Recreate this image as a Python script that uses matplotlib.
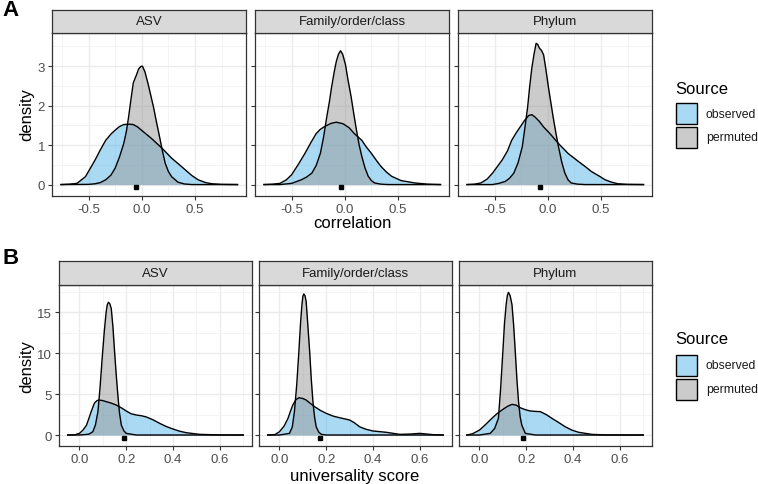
import matplotlib
matplotlib.use("Agg")
import matplotlib.pyplot as plt
from matplotlib.patches import Rectangle

plt.rcParams['font.family'] = ['Liberation Sans', 'DejaVu Sans']
plt.rcParams['axes.unicode_minus'] = False

facets = ["ASV", "Family/order/class", "Phylum"]

# --- panel A: correlation densities ---
corr_asv_obs_x = [-0.76, -0.68, -0.61, -0.53, -0.44, -0.39, -0.34, -0.29, -0.25, -0.21, -0.17, -0.12, -0.08, -0.04, 0.0, 0.09, 0.19, 0.28, 0.35, 0.41, 0.47, 0.53, 0.6, 0.66, 0.75, 0.90]
corr_asv_obs_y = [0.0, 0.01, 0.03, 0.2, 0.62, 0.88, 1.12, 1.28, 1.38, 1.47, 1.52, 1.53, 1.52, 1.46, 1.37, 1.17, 0.92, 0.67, 0.51, 0.37, 0.23, 0.12, 0.05, 0.02, 0.005, 0.0]
corr_asv_perm_x = [-0.76, -0.5, -0.44, -0.39, -0.34, -0.29, -0.25, -0.21, -0.17, -0.145, -0.125, -0.1, -0.08, -0.05, -0.03, -0.01, 0.006, 0.03, 0.06, 0.085, 0.11, 0.135, 0.16, 0.19, 0.22, 0.25, 0.28, 0.34, 0.4, 0.47, 0.90]
corr_asv_perm_y = [0.0, 0.005, 0.02, 0.05, 0.12, 0.24, 0.42, 0.7, 1.04, 1.35, 1.7, 2.2, 2.58, 2.78, 2.93, 2.99, 3.0, 2.85, 2.54, 2.25, 1.96, 1.62, 1.3, 0.9, 0.54, 0.33, 0.2, 0.06, 0.015, 0.0, 0.0]

corr_fam_obs_x = [-0.76, -0.68, -0.61, -0.55, -0.5, -0.44, -0.375, -0.32, -0.27, -0.23, -0.19, -0.13, -0.08, -0.016, 0.04, 0.09, 0.16, 0.2, 0.25, 0.3, 0.34, 0.39, 0.44, 0.53, 0.66, 0.78, 0.90]
corr_fam_obs_y = [0.0, 0.01, 0.03, 0.12, 0.25, 0.5, 0.79, 1.06, 1.29, 1.4, 1.47, 1.55, 1.58, 1.54, 1.44, 1.29, 1.12, 0.96, 0.79, 0.6, 0.46, 0.32, 0.21, 0.1, 0.04, 0.01, 0.0]
corr_fam_perm_x = [-0.76, -0.61, -0.5, -0.41, -0.36, -0.31, -0.27, -0.23, -0.2, -0.17, -0.145, -0.125, -0.1, -0.08, -0.06, -0.04, -0.02, 0.006, 0.03, 0.06, 0.085, 0.11, 0.135, 0.16, 0.19, 0.22, 0.25, 0.28, 0.34, 0.41, 0.90]
corr_fam_perm_y = [0.0, 0.0, 0.03, 0.12, 0.19, 0.29, 0.48, 0.79, 1.2, 1.71, 2.1, 2.46, 2.85, 3.12, 3.3, 3.39, 3.3, 3.04, 2.65, 2.21, 1.78, 1.37, 1.0, 0.71, 0.42, 0.21, 0.1, 0.04, 0.01, 0.0, 0.0]

corr_phy_obs_x = [-0.76, -0.69, -0.63, -0.57, -0.52, -0.43, -0.38, -0.34, -0.3, -0.26, -0.22, -0.18, -0.15, -0.12, -0.08, -0.04, 0.02, 0.1, 0.19, 0.29, 0.35, 0.41, 0.48, 0.54, 0.6, 0.66, 0.75, 0.90]
corr_phy_obs_y = [0.0, 0.01, 0.04, 0.14, 0.29, 0.62, 0.85, 1.12, 1.3, 1.46, 1.62, 1.75, 1.77, 1.71, 1.6, 1.46, 1.29, 1.04, 0.79, 0.58, 0.46, 0.33, 0.22, 0.12, 0.06, 0.02, 0.005, 0.0]
corr_phy_perm_x = [-0.76, -0.52, -0.46, -0.4, -0.36, -0.32, -0.28, -0.24, -0.215, -0.19, -0.17, -0.15, -0.13, -0.11, -0.095, -0.08, -0.06, -0.04, -0.02, 0.006, 0.03, 0.05, 0.075, 0.1, 0.13, 0.16, 0.19, 0.22, 0.28, 0.35, 0.90]
corr_phy_perm_y = [0.0, 0.0, 0.03, 0.08, 0.16, 0.29, 0.55, 0.96, 1.45, 1.96, 2.5, 2.96, 3.3, 3.58, 3.55, 3.46, 3.4, 3.29, 2.95, 2.46, 2.05, 1.71, 1.32, 0.96, 0.58, 0.29, 0.12, 0.04, 0.01, 0.0, 0.0]

corr_means = [-0.053, -0.04, -0.07]

# --- panel B: universality score densities ---
univ_asv_obs_x = [-0.05, -0.02, 0.0, 0.015, 0.03, 0.04, 0.05, 0.064, 0.075, 0.083, 0.1, 0.114, 0.135, 0.157, 0.18, 0.2, 0.22, 0.243, 0.265, 0.286, 0.315, 0.343, 0.37, 0.4, 0.43, 0.457, 0.514, 0.6, 0.7]
univ_asv_obs_y = [0.0, 0.03, 0.2, 0.6, 1.2, 2.0, 2.85, 3.9, 4.2, 4.27, 4.2, 4.07, 3.9, 3.66, 3.3, 2.93, 2.6, 2.44, 2.35, 2.2, 1.85, 1.42, 1.05, 0.73, 0.45, 0.28, 0.08, 0.01, 0.0]
univ_asv_perm_x = [-0.05, 0.0, 0.04, 0.057, 0.068, 0.079, 0.088, 0.097, 0.106, 0.114, 0.119, 0.124, 0.13, 0.136, 0.143, 0.15, 0.157, 0.164, 0.171, 0.179, 0.19, 0.2, 0.243, 0.7]
univ_asv_perm_y = [0.0, 0.0, 0.1, 0.4, 1.2, 2.85, 5.8, 9.35, 12.6, 15.0, 15.9, 16.2, 16.0, 15.4, 13.2, 10.2, 7.4, 4.9, 2.7, 1.2, 0.5, 0.2, 0.0, 0.0]

univ_fam_obs_x = [-0.05, -0.02, 0.0, 0.02, 0.036, 0.047, 0.057, 0.07, 0.083, 0.1, 0.114, 0.13, 0.15, 0.175, 0.2, 0.23, 0.257, 0.3, 0.32, 0.343, 0.37, 0.4, 0.457, 0.514, 0.56, 0.6, 0.657, 0.7]
univ_fam_obs_y = [0.0, 0.05, 0.4, 1.1, 2.0, 2.9, 3.66, 4.3, 4.55, 4.45, 4.27, 3.9, 3.46, 3.0, 2.64, 2.3, 2.11, 1.83, 1.5, 1.0, 0.7, 0.49, 0.33, 0.08, 0.12, 0.2, 0.04, 0.0]
univ_fam_perm_x = [-0.05, 0.0, 0.043, 0.055, 0.064, 0.074, 0.083, 0.09, 0.096, 0.1, 0.104, 0.109, 0.114, 0.121, 0.129, 0.136, 0.143, 0.15, 0.157, 0.168, 0.179, 0.2, 0.7]
univ_fam_perm_y = [0.0, 0.0, 0.2, 1.0, 2.85, 6.2, 10.2, 13.6, 15.9, 16.9, 17.2, 17.0, 16.3, 13.5, 10.2, 6.8, 4.07, 2.2, 1.0, 0.35, 0.08, 0.0, 0.0]

univ_phy_obs_x = [-0.054, -0.03, 0.0, 0.025, 0.053, 0.075, 0.096, 0.12, 0.139, 0.157, 0.174, 0.195, 0.217, 0.24, 0.26, 0.285, 0.31, 0.34, 0.367, 0.395, 0.424, 0.48, 0.54, 0.7]
univ_phy_obs_y = [0.0, 0.15, 0.6, 1.25, 2.03, 2.6, 3.05, 3.5, 3.74, 3.65, 3.33, 3.1, 2.93, 2.88, 2.85, 2.5, 2.03, 1.5, 1.0, 0.6, 0.33, 0.08, 0.01, 0.0]
univ_phy_perm_x = [-0.054, 0.0, 0.046, 0.065, 0.081, 0.09, 0.1, 0.107, 0.114, 0.119, 0.124, 0.131, 0.139, 0.146, 0.153, 0.16, 0.167, 0.174, 0.181, 0.196, 0.24, 0.7]
univ_phy_perm_y = [0.0, 0.0, 0.2, 0.8, 2.03, 5.5, 10.2, 13.6, 15.9, 17.0, 17.4, 17.0, 15.9, 13.4, 10.2, 6.8, 4.07, 2.2, 1.2, 0.2, 0.0, 0.0]

univ_means = [0.19, 0.174, 0.186]

W, H = 758, 485
fig = plt.figure(figsize=(W / 100, H / 100), dpi=100)

OBS_COL = "#56B4E9"
PERM_COL = "#999999"
BORDER = "#333333"


def fig_rect(x0, y0, x1, y1):
    return [x0 / W, 1 - y1 / H, (x1 - x0) / W, (y1 - y0) / H]


def draw_row(xs, strip_top, top, bottom, curves, means, xlim, ylim,
             xticks, xminor, yticks, yminor, xlabels, ylabels, mean_y):
    axes = []
    for i, (x0, x1) in enumerate(xs):
        ax = fig.add_axes(fig_rect(x0, top, x1, bottom))
        ox, oy, px, py = curves[i]
        ax.fill_between(ox, oy, color=OBS_COL, alpha=0.5, lw=0)
        ax.plot(ox, oy, color="black", lw=1.0, solid_joinstyle="round")
        ax.fill_between(px, py, color=PERM_COL, alpha=0.5, lw=0)
        ax.plot(px, py, color="black", lw=1.0, solid_joinstyle="round")
        ax.plot([means[i]], [mean_y], marker="s", color="black", ms=3.5, ls="none")
        ax.set_xlim(xlim)
        ax.set_ylim(ylim)
        ax.set_xticks(xticks)
        ax.set_xticklabels(xlabels)
        ax.set_xticks(xminor, minor=True)
        ax.set_yticks(yticks)
        ax.set_yticks(yminor, minor=True)
        if i == 0:
            ax.set_yticklabels(ylabels)
        else:
            ax.set_yticklabels([])
            ax.tick_params(axis="y", length=0)
        ax.grid(True, which="major", color="#EBEBEB", lw=1.0)
        ax.grid(True, which="minor", color="#F2F2F2", lw=0.6)
        ax.set_axisbelow(True)
        ax.tick_params(axis="both", which="major", length=3, width=0.8, color=BORDER,
                       labelsize=9.5, labelcolor="#4D4D4D", pad=2)
        ax.tick_params(axis="both", which="minor", length=0)
        for s in ax.spines.values():
            s.set_color(BORDER)
            s.set_linewidth(0.9)
        sx = fig.add_axes(fig_rect(x0, strip_top, x1, top))
        sx.set_facecolor("#D9D9D9")
        sx.set_xticks([])
        sx.set_yticks([])
        for s in sx.spines.values():
            s.set_color(BORDER)
            s.set_linewidth(0.9)
        sx.text(0.5, 0.5, facets[i], ha="center", va="center", fontsize=9.5,
                color="#1A1A1A", transform=sx.transAxes)
        axes.append(ax)
    return axes


draw_row([(52, 246), (255, 449), (458, 652)], 11, 34, 197,
         [(corr_asv_obs_x, corr_asv_obs_y, corr_asv_perm_x, corr_asv_perm_y),
          (corr_fam_obs_x, corr_fam_obs_y, corr_fam_perm_x, corr_fam_perm_y),
          (corr_phy_obs_x, corr_phy_obs_y, corr_phy_perm_x, corr_phy_perm_y)],
         corr_means, (-0.845, 0.98), (-0.29, 3.84),
         [-0.5, 0.0, 0.5], [-0.75, -0.25, 0.25, 0.75], [0, 1, 2, 3], [0.5, 1.5, 2.5, 3.5],
         ["-0.5", "0.0", "0.5"], ["0", "1", "2", "3"], -0.06)

draw_row([(59, 252), (259, 452), (459, 652)], 262, 286, 447,
         [(univ_asv_obs_x, univ_asv_obs_y, univ_asv_perm_x, univ_asv_perm_y),
          (univ_fam_obs_x, univ_fam_obs_y, univ_fam_perm_x, univ_fam_perm_y),
          (univ_phy_obs_x, univ_phy_obs_y, univ_phy_perm_x, univ_phy_perm_y)],
         univ_means, (-0.0875, 0.7375), (-1.34, 18.3),
         [0.0, 0.2, 0.4, 0.6], [0.1, 0.3, 0.5, 0.7], [0, 5, 10, 15], [2.5, 7.5, 12.5, 17.5],
         ["0.0", "0.2", "0.4", "0.6"], ["0", "5", "10", "15"], -0.35)

# axis titles and panel letters
fig.text(352 / W, 1 - 224 / H, "correlation", ha="center", va="center", fontsize=12)
fig.text(355 / W, 1 - 477 / H, "universality score", ha="center", va="center", fontsize=12)
fig.text(27 / W, 1 - 115 / H, "density", ha="center", va="center", rotation=90, fontsize=12)
fig.text(27 / W, 1 - 367 / H, "density", ha="center", va="center", rotation=90, fontsize=12)
fig.text(2 / W, 1 - 10 / H, "A", ha="left", va="center", fontsize=16, fontweight="bold")
fig.text(2 / W, 1 - 259 / H, "B", ha="left", va="center", fontsize=16, fontweight="bold")


def draw_legend(title_y, key_top):
    fig.text(675 / W, 1 - title_y / H, "Source", ha="left", va="center", fontsize=12)
    for j, (lab, col) in enumerate([("observed", OBS_COL), ("permuted", PERM_COL)]):
        y0 = key_top + j * 23.5
        fig.add_artist(Rectangle((676 / W, 1 - (y0 + 22) / H), 21 / W, 21 / H,
                                 transform=fig.transFigure, facecolor=col, alpha=0.5,
                                 edgecolor="none"))
        fig.add_artist(Rectangle((676 / W, 1 - (y0 + 22) / H), 21 / W, 21 / H,
                                 transform=fig.transFigure, facecolor="none",
                                 edgecolor="black", lw=1.0))
        fig.text(706 / W, 1 - (y0 + 11.5) / H, lab, ha="left", va="center",
                 fontsize=8.8, color="#1A1A1A")


draw_legend(89, 103)
draw_legend(340, 355)

fig.savefig("out.png", dpi=100)
